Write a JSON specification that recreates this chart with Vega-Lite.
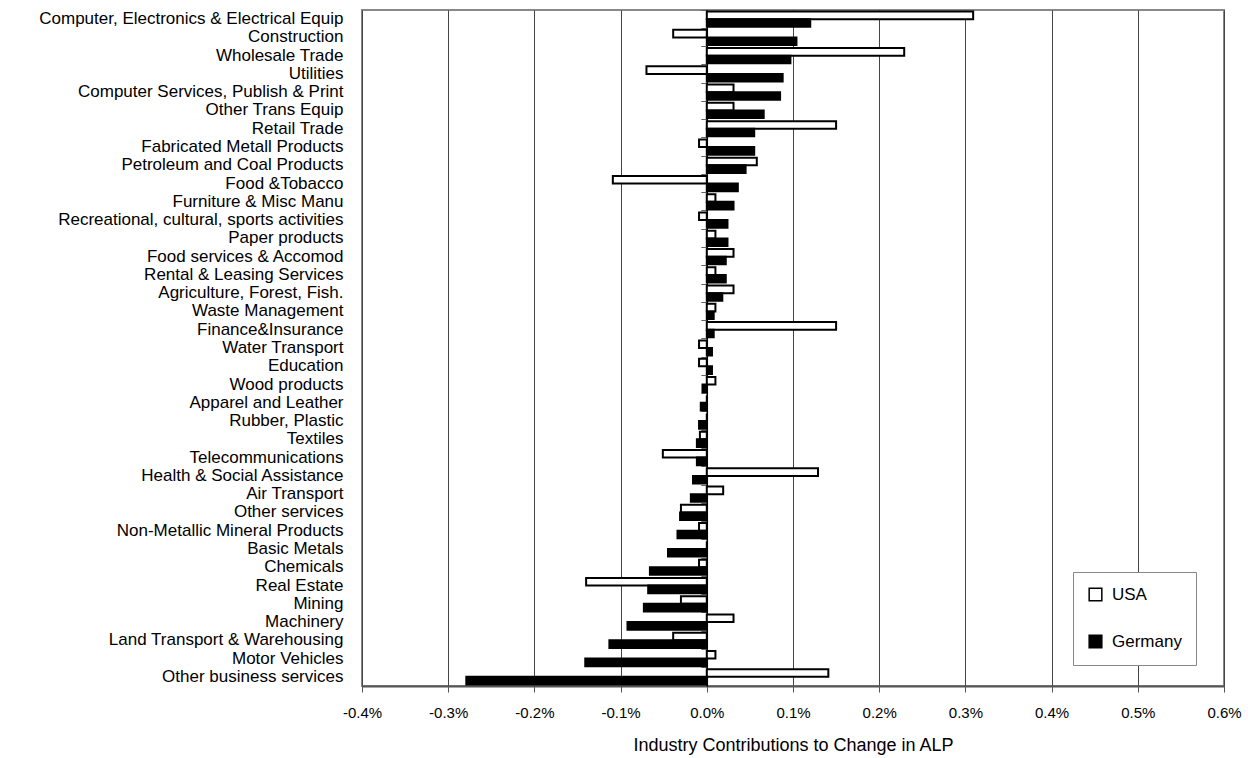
{
  "$schema": "https://vega.github.io/schema/vega-lite/v6.json",
  "autosize": {"type": "none"},
  "width": 862,
  "height": 676,
  "padding": {"left": 362, "top": 10, "right": 32, "bottom": 72},
  "background": "white",
  "config": {
    "font": "Liberation Sans",
    "view": {"stroke": "#888888", "strokeWidth": 2}
  },
  "data": {
    "values": [
      {"industry": "Computer, Electronics & Electrical Equip", "country": "USA", "value": 0.309},
      {"industry": "Computer, Electronics & Electrical Equip", "country": "Germany", "value": 0.120},
      {"industry": "Construction", "country": "USA", "value": -0.039},
      {"industry": "Construction", "country": "Germany", "value": 0.104},
      {"industry": "Wholesale Trade", "country": "USA", "value": 0.229},
      {"industry": "Wholesale Trade", "country": "Germany", "value": 0.097},
      {"industry": "Utilities", "country": "USA", "value": -0.070},
      {"industry": "Utilities", "country": "Germany", "value": 0.088},
      {"industry": "Computer Services, Publish & Print", "country": "USA", "value": 0.031},
      {"industry": "Computer Services, Publish & Print", "country": "Germany", "value": 0.085},
      {"industry": "Other Trans Equip", "country": "USA", "value": 0.031},
      {"industry": "Other Trans Equip", "country": "Germany", "value": 0.066},
      {"industry": "Retail Trade", "country": "USA", "value": 0.150},
      {"industry": "Retail Trade", "country": "Germany", "value": 0.055},
      {"industry": "Fabricated Metall Products", "country": "USA", "value": -0.009},
      {"industry": "Fabricated Metall Products", "country": "Germany", "value": 0.055},
      {"industry": "Petroleum and Coal Products", "country": "USA", "value": 0.058},
      {"industry": "Petroleum and Coal Products", "country": "Germany", "value": 0.045},
      {"industry": "Food &Tobacco", "country": "USA", "value": -0.109},
      {"industry": "Food &Tobacco", "country": "Germany", "value": 0.036},
      {"industry": "Furniture & Misc Manu", "country": "USA", "value": 0.010},
      {"industry": "Furniture & Misc Manu", "country": "Germany", "value": 0.031},
      {"industry": "Recreational, cultural, sports activities", "country": "USA", "value": -0.009},
      {"industry": "Recreational, cultural, sports activities", "country": "Germany", "value": 0.024},
      {"industry": "Paper products", "country": "USA", "value": 0.010},
      {"industry": "Paper products", "country": "Germany", "value": 0.024},
      {"industry": "Food services & Accomod", "country": "USA", "value": 0.031},
      {"industry": "Food services & Accomod", "country": "Germany", "value": 0.022},
      {"industry": "Rental & Leasing Services", "country": "USA", "value": 0.010},
      {"industry": "Rental & Leasing Services", "country": "Germany", "value": 0.022},
      {"industry": "Agriculture, Forest, Fish.", "country": "USA", "value": 0.031},
      {"industry": "Agriculture, Forest, Fish.", "country": "Germany", "value": 0.018},
      {"industry": "Waste Management", "country": "USA", "value": 0.010},
      {"industry": "Waste Management", "country": "Germany", "value": 0.008},
      {"industry": "Finance&Insurance", "country": "USA", "value": 0.150},
      {"industry": "Finance&Insurance", "country": "Germany", "value": 0.008},
      {"industry": "Water Transport", "country": "USA", "value": -0.009},
      {"industry": "Water Transport", "country": "Germany", "value": 0.006},
      {"industry": "Education", "country": "USA", "value": -0.009},
      {"industry": "Education", "country": "Germany", "value": 0.006},
      {"industry": "Wood products", "country": "USA", "value": 0.010},
      {"industry": "Wood products", "country": "Germany", "value": -0.005},
      {"industry": "Apparel and Leather", "country": "USA", "value": 0.0},
      {"industry": "Apparel and Leather", "country": "Germany", "value": -0.007},
      {"industry": "Rubber, Plastic", "country": "USA", "value": 0.0},
      {"industry": "Rubber, Plastic", "country": "Germany", "value": -0.009},
      {"industry": "Textiles", "country": "USA", "value": -0.008},
      {"industry": "Textiles", "country": "Germany", "value": -0.0115},
      {"industry": "Telecommunications", "country": "USA", "value": -0.051},
      {"industry": "Telecommunications", "country": "Germany", "value": -0.0115},
      {"industry": "Health & Social Assistance", "country": "USA", "value": 0.129},
      {"industry": "Health & Social Assistance", "country": "Germany", "value": -0.016},
      {"industry": "Air Transport", "country": "USA", "value": 0.019},
      {"industry": "Air Transport", "country": "Germany", "value": -0.0185},
      {"industry": "Other services", "country": "USA", "value": -0.030},
      {"industry": "Other services", "country": "Germany", "value": -0.031},
      {"industry": "Non-Metallic Mineral Products", "country": "USA", "value": -0.009},
      {"industry": "Non-Metallic Mineral Products", "country": "Germany", "value": -0.034},
      {"industry": "Basic Metals", "country": "USA", "value": 0.0},
      {"industry": "Basic Metals", "country": "Germany", "value": -0.045},
      {"industry": "Chemicals", "country": "USA", "value": -0.009},
      {"industry": "Chemicals", "country": "Germany", "value": -0.066},
      {"industry": "Real Estate", "country": "USA", "value": -0.140},
      {"industry": "Real Estate", "country": "Germany", "value": -0.068},
      {"industry": "Mining", "country": "USA", "value": -0.030},
      {"industry": "Mining", "country": "Germany", "value": -0.073},
      {"industry": "Machinery", "country": "USA", "value": 0.031},
      {"industry": "Machinery", "country": "Germany", "value": -0.092},
      {"industry": "Land Transport & Warehousing", "country": "USA", "value": -0.039},
      {"industry": "Land Transport & Warehousing", "country": "Germany", "value": -0.113},
      {"industry": "Motor Vehicles", "country": "USA", "value": 0.010},
      {"industry": "Motor Vehicles", "country": "Germany", "value": -0.141},
      {"industry": "Other business services", "country": "USA", "value": 0.141},
      {"industry": "Other business services", "country": "Germany", "value": -0.279}
    ]
  },
  "encoding": {
    "x": {
      "field": "value",
      "type": "quantitative",
      "scale": {"domain": [-0.4, 0.6], "nice": false, "zero": false},
      "axis": {
        "values": [-0.4, -0.3, -0.2, -0.1, 0, 0.1, 0.2, 0.3, 0.4, 0.5, 0.6],
        "labelExpr": "(datum.value < 0 ? '-' : '') + format(abs(datum.value), '.1f') + '%'",
        "title": "Industry Contributions to Change in ALP",
        "titleFontSize": 18,
        "titleFontWeight": "normal",
        "titleColor": "black",
        "titlePadding": 16,
        "labelFontSize": 15,
        "labelColor": "black",
        "labelPadding": 13,
        "labelFlush": false,
        "tickSize": 6,
        "tickColor": "#555555",
        "domainColor": "#555555",
        "domainWidth": 2,
        "grid": true,
        "gridColor": "#444444",
        "gridWidth": 1
      }
    },
    "y": {
      "field": "industry",
      "type": "nominal",
      "sort": null,
      "scale": {"paddingInner": 0, "paddingOuter": 0}
    }
  },
  "layer": [
    {
      "mark": {"type": "bar", "stroke": "black", "strokeWidth": 2},
      "encoding": {
        "y": {
          "field": "industry",
          "type": "nominal",
          "sort": null,
          "axis": {
            "title": null,
            "ticks": false,
            "domain": false,
            "labelFontSize": 17,
            "labelColor": "black",
            "labelPadding": 19,
            "labelLimit": 400
          }
        },
        "yOffset": {
          "field": "country",
          "sort": ["USA", "Germany"],
          "scale": {"paddingOuter": 0.2, "paddingInner": 0}
        },
        "fill": {
          "field": "country",
          "type": "nominal",
          "scale": {"domain": ["USA", "Germany"], "range": ["white", "black"]},
          "legend": {
            "title": null,
            "orient": "none",
            "legendX": 711,
            "legendY": 562,
            "padding": 14,
            "rowPadding": 28,
            "fillColor": "white",
            "strokeColor": "#888888",
            "symbolType": "square",
            "symbolSize": 160,
            "symbolStrokeColor": "black",
            "symbolStrokeWidth": 1.5,
            "labelFontSize": 17,
            "labelColor": "black",
            "labelOffset": 8
          }
        }
      }
    },
    {
      "mark": {"type": "point", "opacity": 0},
      "encoding": {
        "x": {"datum": 0},
        "y": {
          "field": "industry",
          "type": "nominal",
          "sort": null,
          "axis": {
            "orient": "left",
            "offset": -344.8,
            "title": null,
            "labels": false,
            "grid": false,
            "domain": true,
            "domainColor": "black",
            "domainWidth": 1.5,
            "ticks": true,
            "tickSize": 6,
            "tickColor": "#666666",
            "bandPosition": 0
          }
        }
      }
    }
  ],
  "resolve": {"axis": {"y": "independent"}}
}
